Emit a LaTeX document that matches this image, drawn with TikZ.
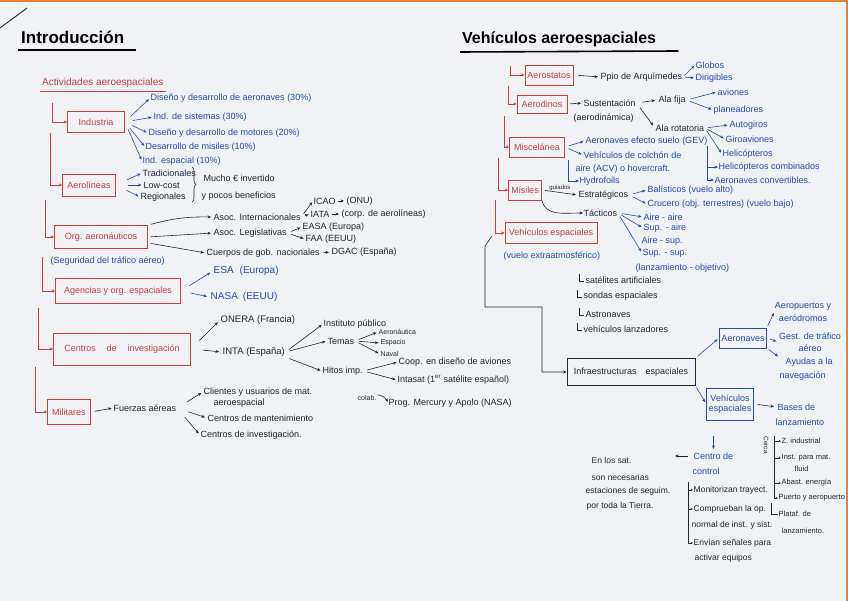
\documentclass[tikz,border=0pt]{standalone}
\usepackage{fontspec}
\setmainfont{Liberation Sans}
\usetikzlibrary{arrows.meta,calc,decorations.pathreplacing}
\definecolor{penred}{RGB}{196,62,62}
\definecolor{penblue}{RGB}{38,72,172}
\definecolor{penblack}{RGB}{34,36,52}
\definecolor{paper}{RGB}{240,242,246}
\definecolor{edgeorange}{RGB}{232,128,52}
\newcommand{\hwfont}{\fontsize{9}{10.5}\selectfont}
\newcommand{\hwmid}{\fontsize{8.5}{10}\selectfont}
\newcommand{\hwsmall}{\fontsize{7.5}{9}\selectfont}
\newcommand{\hwtiny}{\fontsize{7}{8}\selectfont}
\begin{document}
\begin{tikzpicture}[x=1pt,y=-1pt,
  ktxt/.style={font=\hwfont, text=penblack, anchor=west, inner sep=0.5pt},
  btxt/.style={ktxt, text=penblue},
  rtxt/.style={ktxt, text=penred},
  rbox/.style={draw=penred, line width=0.7pt, text=penred, font=\hwfont, inner sep=2pt},
  bbox/.style={rbox, draw=penblue, text=penblue},
  kbox/.style={rbox, draw=penblack, text=penblack},
  rarr/.style={draw=penred, line width=0.7pt, -{Stealth[length=3.5pt,width=3pt]}},
  barr/.style={rarr, draw=penblue, line width=0.6pt},
  karr/.style={rarr, draw=penblack, line width=0.6pt},
  sarr/.style={draw=penblack, line width=0.6pt, -{Stealth[length=2.5pt,width=2.2pt]}},
  kline/.style={draw=penblack, line width=0.6pt},
  kid/.style={shorten <=4pt, shorten >=1.5pt}
]
\fill[paper] (0,0) rectangle (848,601);
\useasboundingbox (0,0) rectangle (848,601);
\fill[edgeorange] (0,0) rectangle (848,2.5);
\fill[edgeorange] (845.5,0) rectangle (848,601);

% ---------------- titles
\draw[penblack, line width=0.9pt] (0,28) -- (27,8);
\node[font=\bfseries\fontsize{17}{20}\selectfont, text=black, anchor=base west, inner sep=0] (intro) at (21,44) {Introducción};
\draw[black, line width=1.6pt] ($(intro.base west)+(-3,6)$) -- ($(intro.base east)+(12,6)$);
\node[font=\fontsize{10}{12}\selectfont, text=penred, anchor=base west, inner sep=0] (act) at (42,86) {Actividades aeroespaciales};
\draw[penred, line width=0.7pt] ($(act.base west)+(-2,5)$) -- ($(act.base east)+(2,5)$);
\node[font=\bfseries\fontsize{16}{19}\selectfont, text=black, anchor=base west, inner sep=0] (veh) at (462,44) {Vehículos aeroespaciales};
\draw[black, line width=1.6pt] ($(veh.base west)+(-2,8)$) -- ($(veh.base east)+(22,7)$);

% ---------------- left boxes
\node[rbox, minimum width=57pt, minimum height=21pt] (ind) at (96,122) {Industria};
\node[rbox, minimum width=53pt, minimum height=22pt] (aer) at (89,185) {Aerolíneas};
\node[rbox, minimum width=93pt, minimum height=23pt] (org) at (101,237) {Org. aeronáuticos};
\node[rbox, minimum width=125pt, minimum height=25pt] (age) at (118,291) {Agencias y org. espaciales};
\node[rbox, minimum width=137pt, minimum height=32pt] (cen) at (122,349) {Centros\hspace{1.2em}de\hspace{1.2em}investigación};
\node[rbox, minimum width=43pt, minimum height=25pt] (mil) at (69,412) {Militares};

\coordinate (L1) at (52,103);
\coordinate (L2) at (50,133);
\coordinate (L3) at (45,200);
\coordinate (L4) at (42,257);
\coordinate (L5) at (38,308);
\coordinate (L6) at (35,367);
\draw[rarr] (L1) |- (ind.west);
\draw[rarr] (L2) |- (aer.west);
\draw[rarr] (L3) |- (org.west);
\draw[rarr] (L4) |- (age.west);
\draw[rarr] (L5) |- (cen.west);
\draw[rarr] (L6) |- (mil.west);

% Industria
\node[btxt] (i1) at (150,98) {Diseño y desarrollo de aeronaves (30\%)};
\node[btxt] (i2) at (153,117) {Ind. de sistemas (30\%)};
\node[btxt] (i3) at (148,133) {Diseño y desarrollo de motores (20\%)};
\node[btxt] (i4) at (145,147) {Desarrollo de misiles (10\%)};
\node[btxt] (i5) at (142,161) {Ind. espacial (10\%)};
\foreach \k in {i1,i2,i3,i4,i5} \draw[barr, shorten <=8pt, shorten >=1.5pt] (ind.east) -- (\k.west);

% Aerolineas
\node[ktxt] (a1) at (142,173) {Tradicionales};
\node[ktxt] (a2) at (143,185) {Low-cost};
\node[ktxt] (a3) at (140,197) {Regionales};
\foreach \k in {a1,a2,a3} \draw[barr, shorten <=12pt, shorten >=1.5pt] (aer.east) -- (\k.west);
\draw[penblack, line width=0.6pt, decorate, decoration={brace, amplitude=4pt}] (192,167) -- (192,202);
\node[ktxt] (mu1) at (203,178) {Mucho € invertido};
\node[ktxt] (mu2) at (201,196) {y pocos beneficios};

% Org. aeronauticos
\node[btxt] (seg) at (50,261) {(Seguridad del tráfico aéreo)};
\node[ktxt] (o1) at (213,217) {Asoc. Internacionales};
\node[ktxt] (o2) at (213,233) {Asoc. Legislativas};
\node[ktxt] (o3) at (206,253) {Cuerpos de gob. nacionales};
\draw[karr, shorten <=3pt, shorten >=2pt] (org.north east) to[bend left=8] (o1.west);
\draw[karr, shorten <=3pt, shorten >=2pt] (org.east) -- (o2.west);
\draw[karr, shorten <=3pt, shorten >=2pt] ($(org.east)!0.5!(org.south east)$) -- (o3.west);
\node[ktxt] (icao) at (313,201) {ICAO};
\node[ktxt] (onu) at (346,201) {(ONU)};
\node[ktxt] (iata) at (310,214) {IATA};
\node[ktxt] (corp) at (341,214) {(corp. de aerolíneas)};
\draw[karr, kid] (o1.east) -- (icao.west);
\draw[karr, kid] (o1.east) -- (iata.west);
\draw[karr, shorten <=2pt, shorten >=2pt] (icao.east) -- (onu.west);
\draw[karr, shorten <=2pt, shorten >=2pt] (iata.east) -- (corp.west);
\node[ktxt] (easa) at (302,227) {EASA (Europa)};
\node[ktxt] (faa) at (305,239) {FAA (EEUU)};
\draw[karr, kid] (o2.east) -- (easa.west);
\draw[karr, kid] (o2.east) -- (faa.west);
\node[ktxt] (dgac) at (331,252) {DGAC (España)};
\draw[karr, shorten <=3pt, shorten >=2pt] (o3.east) -- (dgac.west);

% Agencias
\node[btxt, font=\fontsize{10}{12}\selectfont] (esa) at (213,271) {ESA\hspace{0.6em}(Europa)};
\node[btxt, font=\fontsize{10}{12}\selectfont] (nasa) at (210,297) {NASA\hspace{0.5em}(EEUU)};
\draw[barr, shorten <=10pt, shorten >=3pt] (age.east) -- (esa.west);
\draw[barr, shorten <=10pt, shorten >=3pt] (age.east) -- (nasa.west);

% Centros de investigacion
\node[ktxt, font=\fontsize{9.5}{11}\selectfont] (onera) at (220,320) {ONERA (Francia)};
\node[ktxt, font=\fontsize{9.5}{11}\selectfont] (inta) at (222,352) {INTA (España)};
\draw[karr, shorten <=12pt, shorten >=3pt] (cen.east) -- (onera.west);
\draw[karr, shorten <=12pt, shorten >=3pt] (cen.east) -- (inta.west);
\node[ktxt] (inst) at (323,324) {Instituto público};
\node[ktxt] (temas) at (327,341) {Temas};
\node[ktxt] (hitos) at (322,371) {Hitos imp.};
\draw[karr, kid] (inta.east) -- (inst.west);
\draw[karr, kid] (inta.east) -- (temas.west);
\draw[karr, kid] (inta.south east) -- (hitos.west);
\node[ktxt, font=\hwtiny] (aeroN) at (378,332) {Aeronáutica};
\node[ktxt, font=\hwtiny] (esp) at (380,343) {Espacio};
\node[ktxt, font=\hwtiny] (nav) at (380,354) {Naval};
\foreach \k in {aeroN,esp,nav} \draw[karr, kid] (temas.east) -- (\k.west);
\node[ktxt] (coop) at (398,362) {Coop. en diseño de aviones};
\node[ktxt] (intasat) at (397,380) {Intasat (1\textsuperscript{er} satélite español)};
\draw[karr, kid] (hitos.east) -- (coop.west);
\draw[karr, kid] (hitos.east) -- (intasat.west);
\node[ktxt, font=\hwtiny] (colab) at (357,398) {colab.};
\node[ktxt] (prog) at (388,403) {Prog. Mercury y Apolo (NASA)};
\draw[karr, shorten <=1pt, shorten >=1pt] (colab.north east) to[bend left=30] (prog.west);

% Militares
\node[ktxt] (fa) at (113,408) {Fuerzas aéreas};
\draw[karr, kid] (mil.east) -- (fa.west);
\node[ktxt] (cli) at (203,392) {Clientes y usuarios de mat.};
\node[ktxt] (cli2) at (213,403) {aeroespacial};
\node[ktxt] (cman) at (207,418) {Centros de mantenimiento};
\node[ktxt] (cinv) at (200,435) {Centros de investigación.};
\foreach \k in {cli,cman,cinv} \draw[karr, shorten <=12pt, shorten >=2pt] (fa.east) -- (\k.west);

% ---------------- right boxes
\node[rbox, minimum width=48pt, minimum height=20pt] (ast) at (549,75) {Aerostatos};
\node[rbox, minimum width=50pt, minimum height=18pt] (din) at (542,104) {Aerodinos};
\node[rbox, minimum width=55pt, minimum height=20pt] (mis) at (537,147) {Miscelánea};
\node[rbox, minimum width=33pt, minimum height=20pt] (msl) at (525,190) {Misiles};
\node[rbox, minimum width=92pt, minimum height=21pt] (vesp) at (551,233) {Vehículos espaciales};
\node[kbox, minimum width=128pt, minimum height=27pt] (inf) at (631,372) {Infraestructuras\hspace{1em}espaciales};
\node[bbox, minimum width=47pt, minimum height=20pt] (aeron) at (743,338) {Aeronaves};
\node[bbox, minimum width=46pt, minimum height=32pt, align=center] (vesp2) at (730,404) {Vehículos\\espaciales};

\coordinate (R1) at (510,66);
\coordinate (R2) at (508,86);
\coordinate (R3) at (504,116);
\coordinate (R4) at (498,158);
\coordinate (R5) at (495,200);
\draw[rarr] (R1) |- (ast.west);
\draw[rarr] (R2) |- (din.west);
\draw[rarr] (R3) |- (mis.west);
\draw[rarr] (R4) |- (msl.west);
\draw[rarr] (R5) |- (vesp.west);
\coordinate (K0) at (492,236);
\draw[karr] (K0) -- (485,246) -- (485,307) -- (542,307) |- (inf.west);

% Aerostatos
\node[ktxt] (ppio) at (600,77) {Ppio de Arquímedes};
\draw[karr, shorten <=5pt, shorten >=2pt] (ast.east) -- (ppio.west);
\node[btxt] (glo) at (695,65) {Globos};
\node[btxt] (dir) at (695,78) {Dirigibles};
\draw[barr, shorten <=2pt, shorten >=1pt] (ppio.east) -- (glo.west);
\draw[barr, shorten <=2pt, shorten >=1pt] (ppio.east) -- (dir.west);

% Aerodinos
\node[ktxt] (sus1) at (583,103) {Sustentación};
\node[ktxt] (sus2) at (573,118) {(aerodinámica)};
\draw[karr, shorten <=3pt, shorten >=2pt] (din.east) -- (sus1.west);
\node[ktxt] (afija) at (658,100) {Ala fija};
\node[ktxt] (arot) at (655,128) {Ala rotatoria};
\draw[karr, shorten <=6pt, shorten >=3pt] (sus1.east) -- (afija.west);
\draw[karr, shorten <=6pt, shorten >=3pt] (sus1.east) -- (arot.west);
\node[btxt] (avi) at (717,92) {aviones};
\node[btxt] (plan) at (713,110) {planeadores};
\draw[barr, kid] (afija.east) -- (avi.west);
\draw[barr, kid] (afija.east) -- (plan.west);
\node[btxt] (auto) at (729,125) {Autogiros};
\node[btxt] (giro) at (725,139) {Giroaviones};
\node[btxt] (heli) at (722,154) {Helicópteros};
\node[btxt] (helc) at (718,167) {Helicópteros combinados};
\node[btxt] (conv) at (714,180) {Aeronaves convertibles.};
\foreach \k in {auto,giro,heli} \draw[barr, shorten <=3pt, shorten >=1.5pt] (arot.east) -- (\k.west);
\coordinate (rb) at (707,146);
\draw[barr] (rb) |- (helc.west);
\draw[barr] (rb) |- (conv.west);

% Miscelanea
\node[btxt] (gev) at (585,141) {Aeronaves efecto suelo (GEV)};
\node[btxt] (acv) at (583,155) {Vehículos de colchón de};
\node[btxt] (acv2) at (575,169) {aire (ACV) o hovercraft.};
\node[btxt] (hyd) at (579,181) {Hydrofoils};
\draw[barr, kid] (mis.east) -- (gev.west);
\draw[barr, kid] (mis.east) -- (acv.west);
\coordinate (hyc) at (568,160);
\draw[barr] (hyc) |- (hyd.west);

% Misiles
\node[ktxt] (estr) at (578,195) {Estratégicos};
\draw[karr, shorten <=3pt, shorten >=2pt] (msl.east) -- node[above=0.5pt, font=\fontsize{6}{7}\selectfont, text=penblack, inner sep=0.5pt] (gui) {guiados} (estr.west);
\node[btxt] (bal) at (647,190) {Balísticos (vuelo alto)};
\node[btxt] (cru) at (647,204) {Crucero (obj. terrestres) (vuelo bajo)};
\draw[barr, kid] (estr.east) -- (bal.west);
\draw[barr, kid] (estr.east) -- (cru.west);
\node[ktxt] (tac) at (583,213) {Tácticos};
\draw[karr] (msl.south east) .. controls +(4,16) and +(-20,0) .. (tac.west);
\node[btxt] (aa) at (643,217) {Aire - aire};
\node[btxt] (sa) at (643,228) {Sup. - aire};
\node[btxt] (as) at (641,241) {Aire - sup.};
\node[btxt] (ss) at (642,253) {Sup. - sup.};
\node[btxt] (lan) at (635,268) {(lanzamiento - objetivo)};
\draw[barr, kid] (tac.east) -- (aa.west);
\draw[barr, kid] (tac.east) -- (sa.west);
\draw[barr, kid] (tac.east) -- (ss.west);

% Vehiculos espaciales
\node[btxt] (ext) at (503,256) {(vuelo extraatmosférico)};
\node[ktxt] (s1) at (585,280) {satélites artificiales};
\node[ktxt] (s2) at (583,296) {sondas espaciales};
\node[ktxt] (s3) at (585,314) {Astronaves};
\node[ktxt] (s4) at (583,329) {vehículos lanzadores};
\foreach \k in {s1,s2,s3,s4} \draw[kline] ($(\k.west)+(-6,-6)$) |- ($(\k.west)+(-1,1.5)$);

% Infraestructuras
\draw[barr, shorten <=3pt, shorten >=2pt] (inf.north east) -- (aeron.west);
\draw[barr, shorten <=2pt, shorten >=2pt] (inf.south east) -- (vesp2.west);
\node[btxt, align=center, anchor=center] (apt) at (803,312) {Aeropuertos y\\[2pt]aeródromos};
\node[btxt, align=center, anchor=center] (gt) at (810,342) {Gest. de tráfico\\[2pt]aéreo};
\node[btxt, align=left, anchor=north west] (ay) at (779,357) {\hspace{6pt}Ayudas a la\\[4pt]navegación};
\draw[barr, shorten <=2pt, shorten >=1pt] (aeron.north east) -- (apt.west);
\draw[barr, shorten <=3pt, shorten >=2pt] (aeron.east) -- (gt.west);
\draw[barr, shorten <=2pt, shorten >=1pt] (aeron.south east) -- (ay.north west);
\node[btxt] (bas1) at (777,407) {Bases de};
\node[btxt] (bas2) at (775,422) {lanzamiento};
\draw[karr, shorten <=4pt, shorten >=3pt] (vesp2.east) -- (bas1.west);

% Centro de control
\node[btxt] (ctrl1) at (693,456) {Centro de};
\node[btxt] (ctrl2) at (692,471) {control};
\draw[barr, shorten <=16pt, shorten >=3pt] (vesp2.south -| ctrl1.north) -- (ctrl1.north);
\node[ktxt, font=\hwmid] (en1) at (591,460) {En los sat.};
\node[ktxt, font=\hwmid] (en2) at (591,477) {son necesarias};
\node[ktxt, font=\hwmid] (en3) at (585,491) {estaciones de seguim.};
\node[ktxt, font=\hwmid] (en4) at (586,506) {por toda la Tierra.};
\draw[karr, shorten <=5pt, shorten >=4pt] (ctrl1.west) -- (ctrl1.west -| en3.east);
\coordinate (cl) at (688,482);
\node[ktxt, font=\hwmid] (m1) at (693,490) {Monitorizan trayect.};
\node[ktxt, font=\hwmid] (m2) at (693,509) {Comprueban la op.};
\node[ktxt, font=\hwmid] (m2b) at (691,525) {normal de inst. y sist.};
\node[ktxt, font=\hwmid] (m3) at (693,543) {Envían señales para};
\node[ktxt, font=\hwmid] (m3b) at (694,558) {activar equipos};
\foreach \k in {m1,m2,m3} \draw[sarr] (cl) |- (\k.west);

% Bases de lanzamiento
\node[font=\fontsize{6.5}{7}\selectfont, text=penblack, rotate=-90, inner sep=0] (cerca) at (766,445) {Cerca};
\coordinate (bl) at (774,436);
\node[ktxt, font=\hwsmall] (b1) at (781,441) {Z. industrial};
\node[ktxt, font=\hwsmall] (b2) at (781,458) {Inst. para mat.};
\node[ktxt, font=\hwsmall] (b2b) at (794,469) {fluid};
\node[ktxt, font=\hwsmall] (b3) at (781,483) {Abast. energía};
\node[ktxt, font=\hwsmall] (b4) at (778,498) {Puerto y aeropuerto};
\foreach \k in {b1,b2,b3,b4} \draw[sarr] (bl) |- (\k.west);
\coordinate (bl2) at (771,503);
\node[ktxt, font=\hwsmall] (b5) at (778,514) {Plataf. de};
\node[ktxt, font=\hwsmall] (b5b) at (781,531) {lanzamiento.};
\draw[kline] (bl2) |- (b5.west);
\end{tikzpicture}
\end{document}
